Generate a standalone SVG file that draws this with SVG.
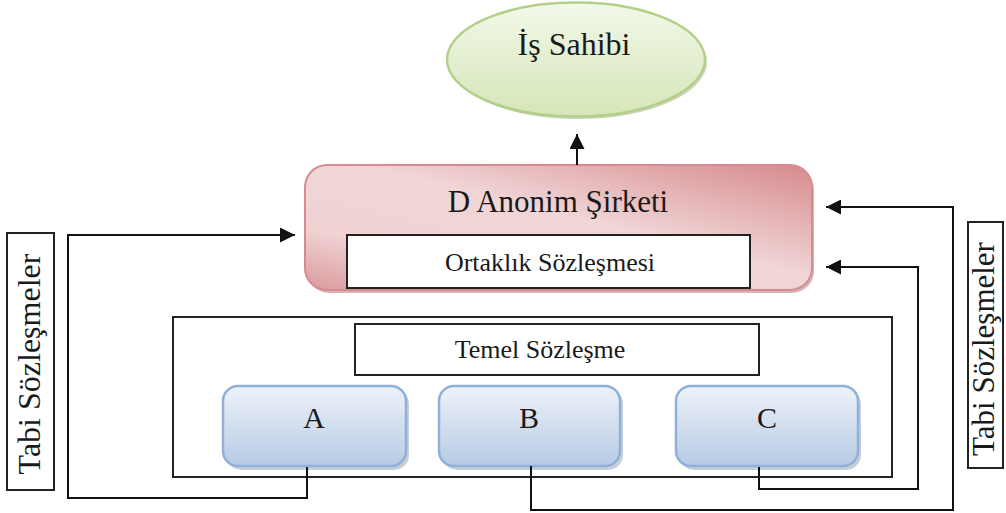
<svg xmlns="http://www.w3.org/2000/svg" width="1006" height="513" viewBox="0 0 1006 513">
  <defs>
    <linearGradient id="gGreen" x1="0" y1="0" x2="0" y2="1">
      <stop offset="0" stop-color="#f3f8ea"/>
      <stop offset="1" stop-color="#d5e6b7"/>
    </linearGradient>
    <linearGradient id="gPink" x1="1" y1="0" x2="0" y2="1">
      <stop offset="0" stop-color="#d68a8d"/>
      <stop offset="0.45" stop-color="#f1d6d7"/>
      <stop offset="0.75" stop-color="#f0d2d3"/>
      <stop offset="1" stop-color="#d99a9c"/>
    </linearGradient>
    <linearGradient id="gBlue" x1="0" y1="0" x2="0" y2="1">
      <stop offset="0" stop-color="#eef3f9"/>
      <stop offset="1" stop-color="#b7cbe4"/>
    </linearGradient>
    <marker id="arr" viewBox="0 0 15 15" refX="15" refY="7.5" markerWidth="15" markerHeight="15" markerUnits="userSpaceOnUse" orient="auto">
      <path d="M0,0 L15,7.5 L0,15 Z" fill="#111"/>
    </marker>
    <style>
      .t { font-family: "Liberation Serif", "Times New Roman", serif; fill: #1a1a1a; text-anchor: middle; }
      .box { fill: #fff; stroke: #222; stroke-width: 2; }
      .frame { fill: none; stroke: #222; stroke-width: 2; }
      .blue { fill: url(#gBlue); stroke: #8eb0d9; stroke-width: 2.5; }
      .bshadow { fill: #9aa6b4; opacity: 0.55; }
      .conn { fill: none; stroke: #111; stroke-width: 2; }
    </style>
  </defs>

  <rect width="1006" height="513" fill="#fff"/>

  <g id="is-sahibi">
    <ellipse cx="578" cy="62" rx="129" ry="57" fill="#a8b88e" opacity="0.6"/>
    <ellipse cx="576" cy="59.5" rx="129" ry="57" fill="url(#gGreen)" stroke="#b2d08a" stroke-width="2.5"/>
    <text class="t" x="574" y="55" font-size="32">İş Sahibi</text>
  </g>

  <g id="d-anonim">
    <rect x="307" y="168" width="507" height="125" rx="22" fill="#c49496" opacity="0.7"/>
    <rect x="305" y="165" width="507" height="125" rx="22" fill="url(#gPink)" stroke="#d48c8f" stroke-width="2"/>
    <text class="t" x="558" y="212" font-size="31">D Anonim Şirketi</text>
    <rect class="box" x="347" y="235" width="403" height="53"/>
    <text class="t" x="550" y="271" font-size="26">Ortaklık Sözleşmesi</text>
  </g>

  <g id="temel">
    <rect class="frame" x="173" y="317" width="719" height="160"/>
    <rect class="box" x="355" y="324" width="404" height="51"/>
    <text class="t" x="540" y="358" font-size="26">Temel Sözleşme</text>
  </g>

  <g id="node-a">
    <rect class="bshadow" x="226" y="389" width="183" height="81" rx="15"/>
    <rect class="blue" x="223" y="386" width="183" height="80" rx="15"/>
    <text class="t" x="314" y="428" font-size="30">A</text>
  </g>
  <g id="node-b">
    <rect class="bshadow" x="442" y="389" width="181" height="81" rx="15"/>
    <rect class="blue" x="439" y="386" width="181" height="80" rx="15"/>
    <text class="t" x="529" y="428" font-size="30">B</text>
  </g>
  <g id="node-c">
    <rect class="bshadow" x="679" y="389" width="182" height="81" rx="15"/>
    <rect class="blue" x="676" y="386" width="182" height="80" rx="15"/>
    <text class="t" x="767" y="428" font-size="30">C</text>
  </g>

  <g id="tabi-left">
    <rect class="box" x="7" y="233" width="47" height="257" stroke-width="1.5"/>
    <text class="t" font-size="32" transform="translate(40,364) rotate(-90)">Tabi Sözleşmeler</text>
  </g>
  <g id="tabi-right">
    <rect class="box" x="968" y="222" width="35" height="246" stroke-width="1.5"/>
    <text class="t" font-size="31" transform="translate(994,349) rotate(-90)">Tabi Sözleşmeler</text>
  </g>

  <g id="connectors">
    <path class="conn" d="M577 165 V134" stroke-width="3" marker-end="url(#arr)"/>
    <path class="conn" d="M307 467 V498 H68 V235 H295" marker-end="url(#arr)"/>
    <path class="conn" d="M531 466 V510 H953 V207 H826" marker-end="url(#arr)"/>
    <path class="conn" d="M759 467 V489 H918 V267 H826" marker-end="url(#arr)"/>
  </g>
</svg>
